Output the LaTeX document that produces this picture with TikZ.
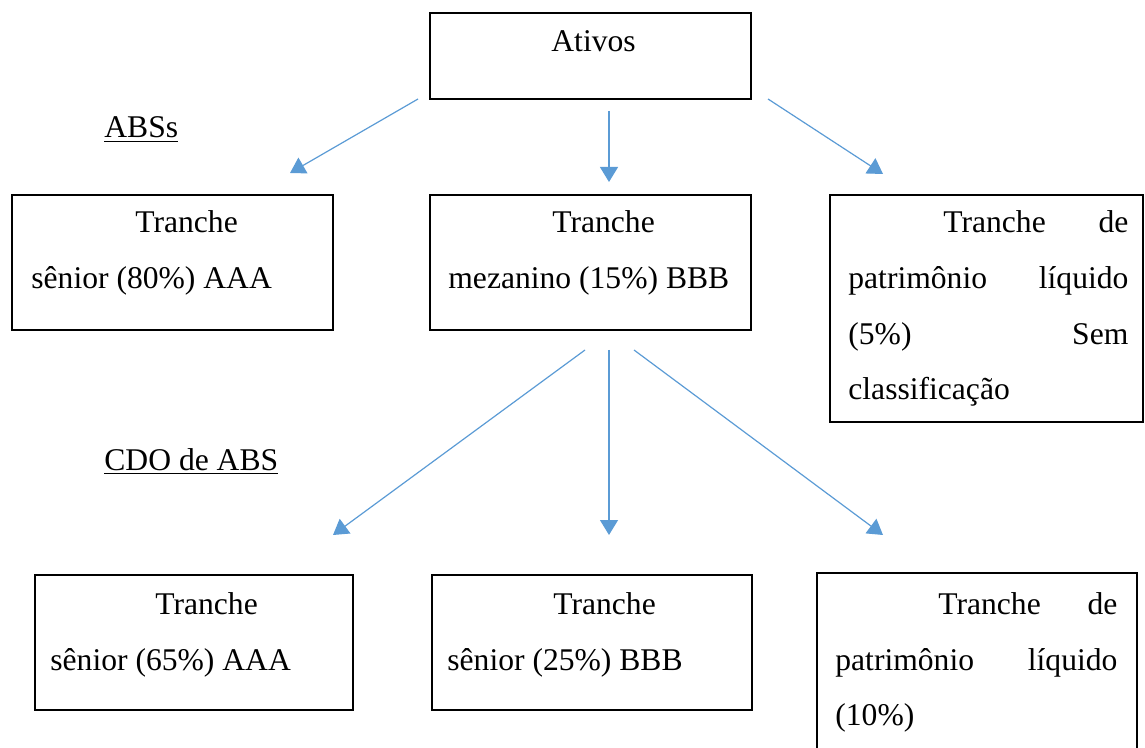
\documentclass[tikz,border=0pt]{standalone}
\usepackage{fontspec}
\setmainfont{Liberation Serif}
\usetikzlibrary{arrows.meta}
\definecolor{arrowblue}{HTML}{5B9BD5}
\begin{document}
\begin{tikzpicture}[x=0.5pt,y=-0.5pt,
  box/.style={draw,line width=0.7pt,inner sep=0pt},
  txt/.style={inner sep=0pt,anchor=base west,font=\fontsize{15.8}{18}\selectfont},
  arr/.style={draw=arrowblue,line width=0.6pt,-{Triangle[width=9pt,length=7.5pt]},arrowblue}]
\useasboundingbox (0,0) rectangle (1145,748);
\clip (0,0) rectangle (1145,748);
% boxes
\node[box,minimum width=160.5pt,minimum height=43pt] (ativos) at (590.5,56) {};
\node[box,minimum width=160.5pt,minimum height=67.5pt] (b1) at (172.5,262.5) {};
\node[box,minimum width=160.5pt,minimum height=67.5pt] (b2) at (590.5,262.5) {};
\node[box,minimum width=156.5pt,minimum height=113.5pt] (b3) at (986.5,308.5) {};
\node[box,minimum width=159pt,minimum height=67.5pt] (b4) at (194,642.5) {};
\node[box,minimum width=160pt,minimum height=67.5pt] (b5) at (592,642.5) {};
\node[box,minimum width=160pt,minimum height=100pt] (b6) at (977,673) {};
% texts
\node[txt] (tat) at (551,52) {Ativos};
\node[txt] (tabs) at (104,138) {\underline{ABSs}};
\node[txt] (tcdo) at (104,470) {\underline{CDO de ABS}};
\node[txt] (t1a) at (135,233) {Tranche};
\node[txt] (t1b) at (31,289) {sênior (80\%) AAA};
\node[txt] (t2a) at (552,233) {Tranche};
\node[txt] (t2b) at (448,289) {mezanino (15\%) BBB};
\node[txt] (t3a) at (943,233) {\makebox[92.5pt][s]{Tranche\hfill de}};
\node[txt] (t3b) at (848,289) {\makebox[140pt][s]{patrimônio\hfill líquido}};
\node[txt] (t3c) at (848,345) {\makebox[140pt][s]{(5\%)\hfill Sem}};
\node[txt] (t3d) at (848,400) {classificação};
\node[txt] (t4a) at (155,614) {Tranche};
\node[txt] (t4b) at (50,670) {sênior (65\%) AAA};
\node[txt] (t5a) at (553,614) {Tranche};
\node[txt] (t5b) at (447,670) {sênior (25\%) BBB};
\node[txt] (t6a) at (938,614) {\makebox[89.5pt][s]{Tranche\hfill de}};
\node[txt] (t6b) at (835,670) {\makebox[141pt][s]{patrimônio\hfill líquido}};
\node[txt] (t6c) at (835,725) {(10\%)};
% arrow endpoints
\coordinate (a1s) at (418,99);  \coordinate (a1e) at (290,173);
\coordinate (a2s) at (609,111); \coordinate (a2e) at (609,182);
\coordinate (a3s) at (768,99);  \coordinate (a3e) at (883,174);
\coordinate (a4s) at (585,350); \coordinate (a4e) at (333,535);
\coordinate (a5s) at (609,350); \coordinate (a5e) at (609,535);
\coordinate (a6s) at (634,350); \coordinate (a6e) at (883,535);
\draw[arr] (a1s) -- (a1e);
\draw[arr] (a2s) -- (a2e);
\draw[arr] (a3s) -- (a3e);
\draw[arr] (a4s) -- (a4e);
\draw[arr] (a5s) -- (a5e);
\draw[arr] (a6s) -- (a6e);
\end{tikzpicture}
\end{document}
